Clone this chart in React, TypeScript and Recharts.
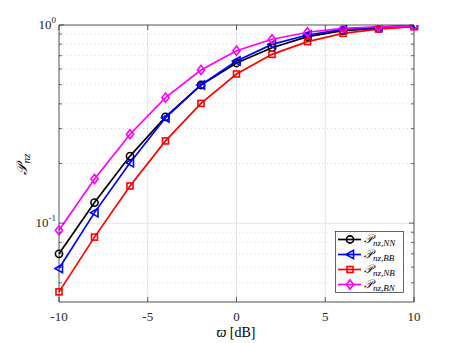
import React from 'react'
import { LineChart, Line, XAxis, YAxis, ReferenceLine, Legend } from 'recharts'

// SNR grid (dB)
const snr = [-10, -8, -6, -4, -2, 0, 2, 4, 6, 8, 10]

// probability curves
const pNN = [0.07, 0.127, 0.218, 0.344, 0.498, 0.643, 0.768, 0.873, 0.936, 0.962, 0.99]
const pBB = [0.059, 0.113, 0.202, 0.34, 0.498, 0.658, 0.798, 0.89, 0.95, 0.975, 1.0]
const pNB = [0.045, 0.085, 0.154, 0.26, 0.402, 0.566, 0.711, 0.824, 0.908, 0.954, 0.98]
const pBN = [0.092, 0.167, 0.281, 0.43, 0.593, 0.742, 0.847, 0.919, 0.962, 0.98, 0.99]

const xTicks = [-10, -5, 0, 5, 10]
const yTicks = [0.05, 0.06, 0.07, 0.08, 0.09, 0.1, 0.2, 0.3, 0.4, 0.5, 0.6, 0.7, 0.8, 0.9, 1]
const yMinorGrid = [0.05, 0.06, 0.07, 0.08, 0.09, 0.2, 0.3, 0.4, 0.5, 0.6, 0.7, 0.8, 0.9]
const yMajorGrid = [0.1]
const xGrid = [-5, 0, 5]
const yExponents: Record<string, string> = { '1': '0', '0.1': '-1' }

const seriesNames = ['nz,NN', 'nz,BB', 'nz,NB', 'nz,BN']
const seriesKeys = ['nn', 'bb', 'nb', 'bn']
const seriesColors = ['#000000', '#0000ff', '#ff0000', '#ff00ff']
const seriesMarkers = ['circle', 'triangle', 'square', 'diamond']

const data = snr.map((x, i) => ({ x, nn: pNN[i], bb: pBB[i], nb: pNB[i], bn: pBN[i] }))

const W = 457
const H = 343
const LEFT = 59
const RIGHT = 414
const TOP = 25
const BOTTOM = 302
const SERIF = '"Liberation Serif", "DejaVu Serif", serif'
const AXIS = '#262626'

const Marker = ({ cx, cy, kind, color }: { cx: number; cy: number; kind: string; color: string }) => {
  const common = { fill: 'none', stroke: color, strokeWidth: 1.6 }
  if (kind === 'circle') return <circle cx={cx} cy={cy} r={3.6} {...common} />
  if (kind === 'square') return <rect x={cx - 3} y={cy - 3} width={6} height={6} {...common} />
  if (kind === 'triangle')
    return <polygon points={`${cx - 4},${cy} ${cx + 3.5},${cy - 4.2} ${cx + 3.5},${cy + 4.2}`} {...common} />
  return <polygon points={`${cx},${cy - 4.6} ${cx + 3.6},${cy} ${cx},${cy + 4.6} ${cx - 3.6},${cy}`} {...common} />
}

const PLabel = ({ sub, size = 13 }: { sub: string; size?: number }) => (
  <>
    <tspan fontStyle="italic" fontSize={size}>𝒫</tspan>
    <tspan fontStyle="italic" fontSize={size * 0.75} dy={3}>{sub}</tspan>
  </>
)

const YTick = (props: any) => {
  const { y, payload } = props
  const v = payload.value
  const exp = yExponents[String(v)]
  const len = exp ? 5 : 3
  return (
    <g>
      <line x1={LEFT} x2={LEFT + len} y1={y} y2={y} stroke={AXIS} strokeWidth={0.7} />
      <line x1={RIGHT} x2={RIGHT - len} y1={y} y2={y} stroke={AXIS} strokeWidth={0.7} />
      {exp && (
        <text x={56} y={y + 4} textAnchor="end" fill={AXIS} fontFamily={SERIF} fontSize={13}>
          10
          <tspan fontSize={9} dy={-6}>{exp}</tspan>
        </text>
      )}
    </g>
  )
}

const XTick = (props: any) => {
  const { x, payload } = props
  return (
    <g>
      <line x1={x} x2={x} y1={BOTTOM} y2={BOTTOM - 5} stroke={AXIS} strokeWidth={0.7} />
      <line x1={x} x2={x} y1={TOP} y2={TOP + 5} stroke={AXIS} strokeWidth={0.7} />
      <text x={x} y={BOTTOM + 19} textAnchor="middle" fill={AXIS} fontFamily={SERIF} fontSize={13}>
        {payload.value}
      </text>
    </g>
  )
}

const LegendBox = () => (
  <svg width={70} height={63} style={{ display: 'block' }}>
    <rect x={0.5} y={0.5} width={68} height={61} fill="#fff" stroke={AXIS} strokeWidth={0.7} />
    {seriesKeys.map((k, i) => {
      const cy = 8.5 + i * 15
      return (
        <g key={k}>
          <line x1={3} x2={26} y1={cy} y2={cy} stroke={seriesColors[i]} strokeWidth={1.7} />
          <Marker cx={15} cy={cy} kind={seriesMarkers[i]} color={seriesColors[i]} />
          <text x={29} y={cy + 3} fill="#000" fontFamily={SERIF}>
            <PLabel sub={seriesNames[i]} size={12} />
          </text>
        </g>
      )
    })}
  </svg>
)

export default function App() {
  return (
    <div style={{ position: 'absolute', left: 0, top: 0, width: W, height: H, background: '#fff' }}>
      <LineChart width={W} height={H} data={data} margin={{ top: TOP, right: W - RIGHT, left: 0, bottom: 0 }}>
        {xGrid.map((v) => (
          <ReferenceLine key={'gx' + v} x={v} stroke="#e2e2e2" strokeWidth={1} />
        ))}
        {yMajorGrid.map((v) => (
          <ReferenceLine key={'gy' + v} y={v} stroke="#e2e2e2" strokeWidth={1} />
        ))}
        {yMinorGrid.map((v) => (
          <ReferenceLine key={'gm' + v} y={v} stroke="#c8c8c8" strokeWidth={0.7} strokeDasharray="1 3" />
        ))}
        <ReferenceLine y={1} stroke={AXIS} strokeWidth={0.8} />
        <ReferenceLine x={10} stroke={AXIS} strokeWidth={0.8} />
        <XAxis
          dataKey="x"
          type="number"
          domain={[-10, 10]}
          ticks={xTicks}
          height={H - BOTTOM}
          tickLine={false}
          axisLine={{ stroke: AXIS, strokeWidth: 0.8 }}
          tick={<XTick />}
          interval={0}
          label={() => (
            <text x={236} y={337} textAnchor="middle" fill="#000" fontFamily={SERIF} fontSize={14}>
              <tspan fontStyle="italic">ϖ</tspan> [dB]
            </text>
          )}
        />
        <YAxis
          type="number"
          scale="log"
          domain={[0.04, 1]}
          allowDataOverflow
          ticks={yTicks}
          width={LEFT}
          tickLine={false}
          axisLine={{ stroke: AXIS, strokeWidth: 0.8 }}
          tick={<YTick />}
          interval={0}
          label={() => (
            <text transform="rotate(-90, 27, 164)" x={27} y={164} textAnchor="middle" fill="#000" fontFamily={SERIF}>
              <PLabel sub="nz" size={15} />
            </text>
          )}
        />
        <Legend
          layout="horizontal"
          verticalAlign="middle"
          align="center"
          content={() => <LegendBox />}
          wrapperStyle={{ left: 335, top: 231, width: 70, height: 63 }}
        />
        {seriesKeys.map((k, i) => (
          <Line
            key={k}
            dataKey={k}
            stroke={seriesColors[i]}
            strokeWidth={1.7}
            isAnimationActive={false}
            dot={(p: any) => <Marker key={k + p.index} cx={p.cx} cy={p.cy} kind={seriesMarkers[i]} color={seriesColors[i]} />}
            activeDot={false}
          />
        ))}
      </LineChart>
    </div>
  )
}
